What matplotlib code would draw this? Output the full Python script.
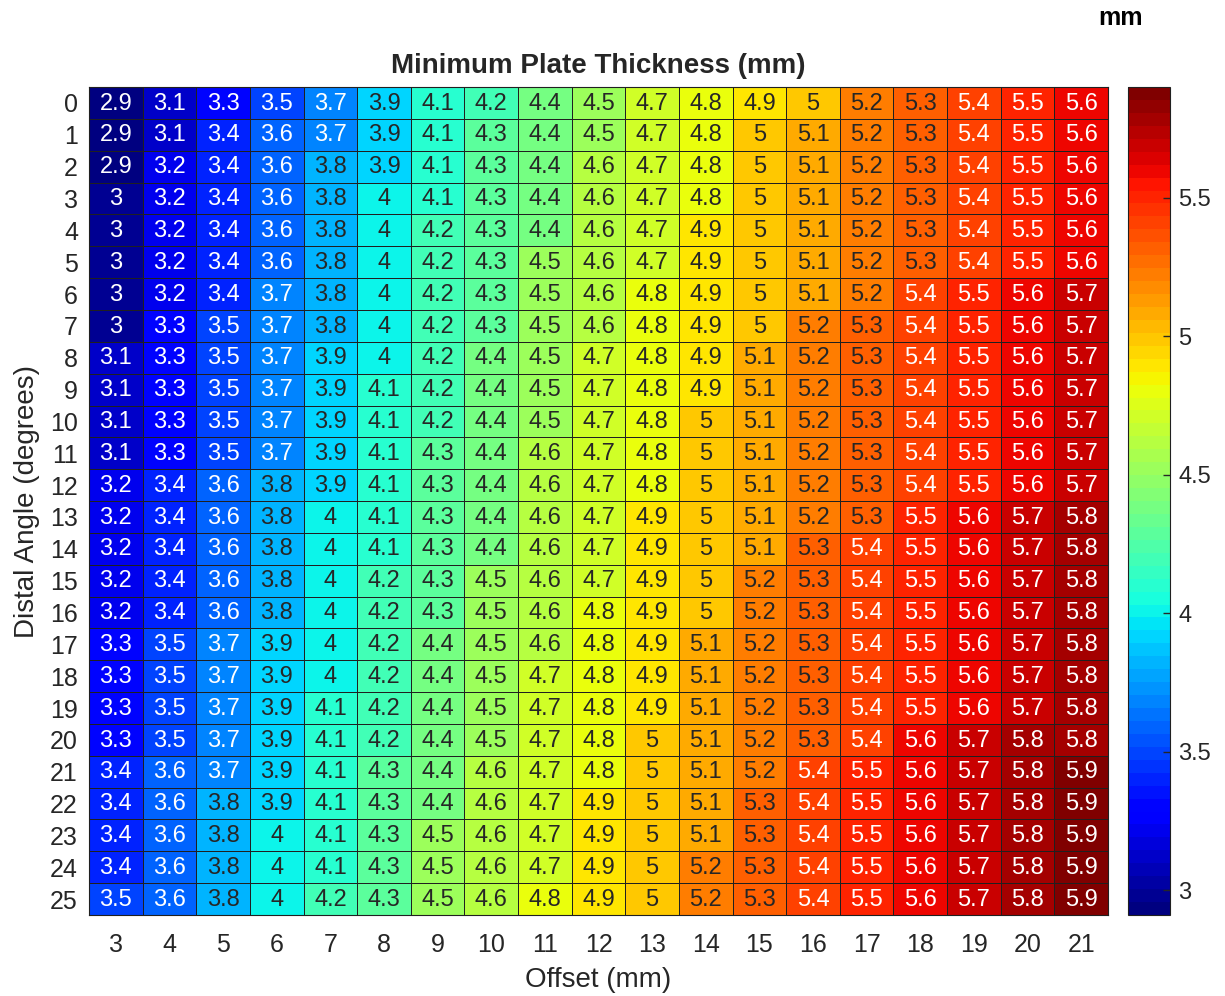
import numpy as np
import matplotlib.pyplot as plt
from matplotlib.colors import Normalize

# Offsets (mm) along x, distal angles (deg) along y
offsets = [3, 4, 5, 6, 7, 8, 9, 10, 11, 12, 13, 14, 15, 16, 17, 18, 19, 20, 21]
angles = list(range(26))

# minimum plate thickness (mm), one row per distal angle
thickness = [
    [2.9, 3.1, 3.3, 3.5, 3.7, 3.9, 4.1, 4.2, 4.4, 4.5, 4.7, 4.8, 4.9, 5.0, 5.2, 5.3, 5.4, 5.5, 5.6],
    [2.9, 3.1, 3.4, 3.6, 3.7, 3.9, 4.1, 4.3, 4.4, 4.5, 4.7, 4.8, 5.0, 5.1, 5.2, 5.3, 5.4, 5.5, 5.6],
    [2.9, 3.2, 3.4, 3.6, 3.8, 3.9, 4.1, 4.3, 4.4, 4.6, 4.7, 4.8, 5.0, 5.1, 5.2, 5.3, 5.4, 5.5, 5.6],
    [3.0, 3.2, 3.4, 3.6, 3.8, 4.0, 4.1, 4.3, 4.4, 4.6, 4.7, 4.8, 5.0, 5.1, 5.2, 5.3, 5.4, 5.5, 5.6],
    [3.0, 3.2, 3.4, 3.6, 3.8, 4.0, 4.2, 4.3, 4.4, 4.6, 4.7, 4.9, 5.0, 5.1, 5.2, 5.3, 5.4, 5.5, 5.6],
    [3.0, 3.2, 3.4, 3.6, 3.8, 4.0, 4.2, 4.3, 4.5, 4.6, 4.7, 4.9, 5.0, 5.1, 5.2, 5.3, 5.4, 5.5, 5.6],
    [3.0, 3.2, 3.4, 3.7, 3.8, 4.0, 4.2, 4.3, 4.5, 4.6, 4.8, 4.9, 5.0, 5.1, 5.2, 5.4, 5.5, 5.6, 5.7],
    [3.0, 3.3, 3.5, 3.7, 3.8, 4.0, 4.2, 4.3, 4.5, 4.6, 4.8, 4.9, 5.0, 5.2, 5.3, 5.4, 5.5, 5.6, 5.7],
    [3.1, 3.3, 3.5, 3.7, 3.9, 4.0, 4.2, 4.4, 4.5, 4.7, 4.8, 4.9, 5.1, 5.2, 5.3, 5.4, 5.5, 5.6, 5.7],
    [3.1, 3.3, 3.5, 3.7, 3.9, 4.1, 4.2, 4.4, 4.5, 4.7, 4.8, 4.9, 5.1, 5.2, 5.3, 5.4, 5.5, 5.6, 5.7],
    [3.1, 3.3, 3.5, 3.7, 3.9, 4.1, 4.2, 4.4, 4.5, 4.7, 4.8, 5.0, 5.1, 5.2, 5.3, 5.4, 5.5, 5.6, 5.7],
    [3.1, 3.3, 3.5, 3.7, 3.9, 4.1, 4.3, 4.4, 4.6, 4.7, 4.8, 5.0, 5.1, 5.2, 5.3, 5.4, 5.5, 5.6, 5.7],
    [3.2, 3.4, 3.6, 3.8, 3.9, 4.1, 4.3, 4.4, 4.6, 4.7, 4.8, 5.0, 5.1, 5.2, 5.3, 5.4, 5.5, 5.6, 5.7],
    [3.2, 3.4, 3.6, 3.8, 4.0, 4.1, 4.3, 4.4, 4.6, 4.7, 4.9, 5.0, 5.1, 5.2, 5.3, 5.5, 5.6, 5.7, 5.8],
    [3.2, 3.4, 3.6, 3.8, 4.0, 4.1, 4.3, 4.4, 4.6, 4.7, 4.9, 5.0, 5.1, 5.3, 5.4, 5.5, 5.6, 5.7, 5.8],
    [3.2, 3.4, 3.6, 3.8, 4.0, 4.2, 4.3, 4.5, 4.6, 4.7, 4.9, 5.0, 5.2, 5.3, 5.4, 5.5, 5.6, 5.7, 5.8],
    [3.2, 3.4, 3.6, 3.8, 4.0, 4.2, 4.3, 4.5, 4.6, 4.8, 4.9, 5.0, 5.2, 5.3, 5.4, 5.5, 5.6, 5.7, 5.8],
    [3.3, 3.5, 3.7, 3.9, 4.0, 4.2, 4.4, 4.5, 4.6, 4.8, 4.9, 5.1, 5.2, 5.3, 5.4, 5.5, 5.6, 5.7, 5.8],
    [3.3, 3.5, 3.7, 3.9, 4.0, 4.2, 4.4, 4.5, 4.7, 4.8, 4.9, 5.1, 5.2, 5.3, 5.4, 5.5, 5.6, 5.7, 5.8],
    [3.3, 3.5, 3.7, 3.9, 4.1, 4.2, 4.4, 4.5, 4.7, 4.8, 4.9, 5.1, 5.2, 5.3, 5.4, 5.5, 5.6, 5.7, 5.8],
    [3.3, 3.5, 3.7, 3.9, 4.1, 4.2, 4.4, 4.5, 4.7, 4.8, 5.0, 5.1, 5.2, 5.3, 5.4, 5.6, 5.7, 5.8, 5.8],
    [3.4, 3.6, 3.7, 3.9, 4.1, 4.3, 4.4, 4.6, 4.7, 4.8, 5.0, 5.1, 5.2, 5.4, 5.5, 5.6, 5.7, 5.8, 5.9],
    [3.4, 3.6, 3.8, 3.9, 4.1, 4.3, 4.4, 4.6, 4.7, 4.9, 5.0, 5.1, 5.3, 5.4, 5.5, 5.6, 5.7, 5.8, 5.9],
    [3.4, 3.6, 3.8, 4.0, 4.1, 4.3, 4.5, 4.6, 4.7, 4.9, 5.0, 5.1, 5.3, 5.4, 5.5, 5.6, 5.7, 5.8, 5.9],
    [3.4, 3.6, 3.8, 4.0, 4.1, 4.3, 4.5, 4.6, 4.7, 4.9, 5.0, 5.2, 5.3, 5.4, 5.5, 5.6, 5.7, 5.8, 5.9],
    [3.5, 3.6, 3.8, 4.0, 4.2, 4.3, 4.5, 4.6, 4.8, 4.9, 5.0, 5.2, 5.3, 5.4, 5.5, 5.6, 5.7, 5.8, 5.9],
]
cbar_ticks = [3, 3.5, 4, 4.5, 5, 5.5]

plt.rcParams['font.family'] = ['Liberation Sans', 'DejaVu Sans']
data = np.array(thickness)
cmap = plt.get_cmap('jet', 64)
norm = Normalize(vmin=2.91, vmax=5.90)
grey = '#262626'

fig = plt.figure(figsize=(12.25, 9.96), dpi=100)
ax = fig.add_axes([0.0727, 0.0813, 0.8318, 0.8313])
cax = fig.add_axes([0.9208, 0.0813, 0.0343, 0.8313])

mesh = ax.pcolormesh(data, cmap=cmap, norm=norm, edgecolors='#202020', linewidth=0.6)
ax.set_xlim(0, len(offsets))
ax.set_ylim(len(angles), 0)

# white labels on dark cells, dark labels on light ones
for i in range(data.shape[0]):
    for j in range(data.shape[1]):
        v = data[i, j]
        r, g, b, _ = cmap(norm(v))
        lum = 0.299 * r + 0.587 * g + 0.114 * b
        col = 'white' if lum < 0.45 else grey
        ax.text(j + 0.5, i + 0.52, f'{v:g}', ha='center', va='center',
                fontsize=17, color=col)

ax.set_xticks(np.arange(len(offsets)) + 0.5)
ax.set_xticklabels([str(o) for o in offsets])
ax.set_yticks(np.arange(len(angles)) + 0.5)
ax.set_yticklabels([str(a) for a in angles])
ax.tick_params(length=0, labelsize=18, colors=grey)
ax.tick_params(axis='y', pad=8)
ax.tick_params(axis='x', pad=13)
for s in ax.spines.values():
    s.set_color('#202020')

ax.set_xlabel('Offset (mm)', fontsize=20, color=grey, labelpad=7)
ax.set_ylabel('Distal Angle (degrees)', fontsize=20, color=grey, labelpad=7)
ax.set_title('Minimum Plate Thickness (mm)', fontsize=20, fontweight='bold',
             color=grey, pad=10)

cb = fig.colorbar(mesh, cax=cax, ticks=cbar_ticks)
cb.ax.set_yticklabels([f'{t:g}' for t in cbar_ticks])
cb.ax.tick_params(labelsize=17, colors=grey, length=5, direction='in', width=1, pad=6)
cb.outline.set_edgecolor('#202020')
fig.text(0.915, 0.982, 'mm', fontsize=18, fontweight='bold', ha='center', va='center')

fig.savefig('out.png', dpi=100)
